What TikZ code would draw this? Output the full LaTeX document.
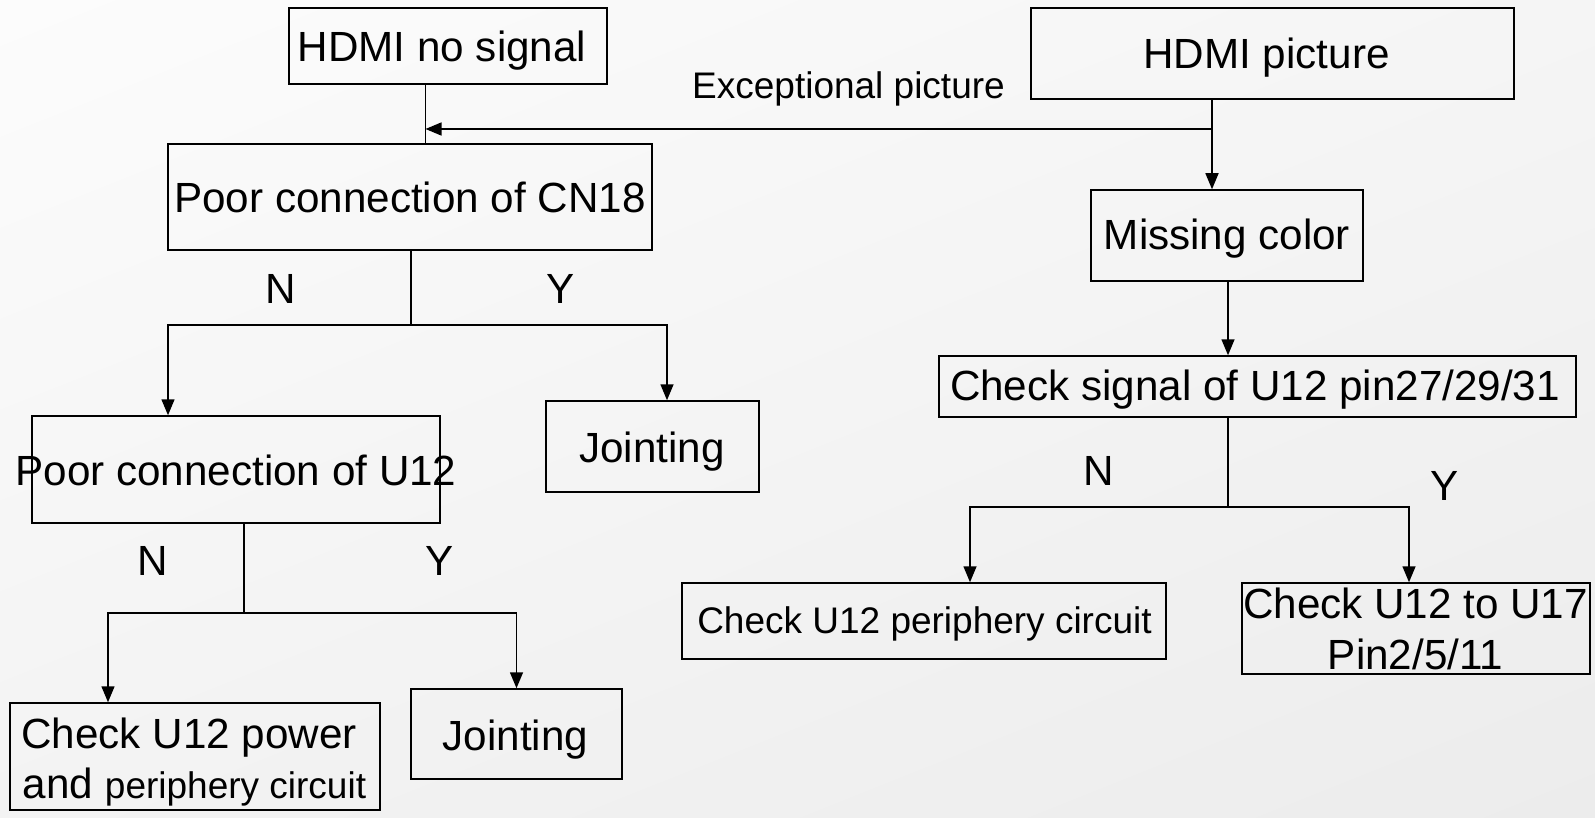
\documentclass[tikz,border=0pt]{standalone}
\usepackage{fontspec}
\setmainfont{Liberation Sans}
\usetikzlibrary{arrows.meta,shadings}
\newcommand\txtL{\fontsize{42.2}{51}\selectfont}
\newcommand\txtS{\fontsize{37}{45}\selectfont}
\definecolor{bgTL}{RGB}{252,252,252}
\definecolor{bgTR}{RGB}{245,245,245}
\definecolor{bgBL}{RGB}{243,243,243}
\definecolor{bgBR}{RGB}{236,236,236}
\begin{document}
\begin{tikzpicture}[x=1pt,y=-1pt,
  box/.style={draw=black, line width=1.5pt, inner sep=0pt},
  lbl/.style={anchor=base, inner sep=0pt, font=\txtL},
  lbls/.style={anchor=base, inner sep=0pt, font=\txtS},
  wire/.style={draw=black, line width=1.5pt},
  arr/.style={wire, -{Triangle[length=16pt,width=13pt]}}]
% page and background
\shade[upper left=bgTL, upper right=bgTR, lower left=bgBL, lower right=bgBR]
  (0,0) rectangle (1595,818);
\useasboundingbox (0,0) rectangle (1595,818);

% boxes
\node[box, minimum width=318pt, minimum height=76pt]  (nosig)  at (448,46) {};
\node[box, minimum width=484pt, minimum height=106pt] (cn18)   at (410,197) {};
\node[box, minimum width=408pt, minimum height=107pt] (u12)    at (236,469.5) {};
\node[box, minimum width=213pt, minimum height=91pt]  (joint1) at (652.5,446.5) {};
\node[box, minimum width=370pt, minimum height=107pt] (power)  at (195,756.5) {};
\node[box, minimum width=211pt, minimum height=90pt]  (joint2) at (516.5,734) {};
\node[box, minimum width=483pt, minimum height=91pt]  (hpic)   at (1272.5,53.5) {};
\node[box, minimum width=272pt, minimum height=91pt]  (miss)   at (1227,235.5) {};
\node[box, minimum width=637pt, minimum height=61pt]  (sig)    at (1257.5,386.5) {};
\node[box, minimum width=484pt, minimum height=76pt]  (peri)   at (924,621) {};
\node[box, minimum width=348pt, minimum height=91pt]  (u17)    at (1416,628.5) {};

% box texts
\node[lbl] (tnosig)  at (442,62)    {HDMI no signal};
\node[lbl] (tcn18)   at (410,213)   {Poor connection of CN18};
\node[lbl] (tu12)    at (236,485)   {Poor connection of U12};
\node[lbl] (tjoint1) at (652,462)   {Jointing};
\node[lbl] (tpowerA) at (189,748)   {Check U12 power};
\node[lbl] (tpowerB) at (194.5,798) {and {\txtS periphery circuit}};
\node[lbl] (tjoint2) at (515.5,750) {Jointing};
\node[lbl] (thpic)   at (1266.5,69) {HDMI picture};
\node[lbl] (tmiss)   at (1227,250)  {Missing color};
\node[lbl] (tsig)    at (1255,400)  {Check signal of U12 pin27/29/31};
\node[lbls] (tperi)  at (924.5,633) {Check U12 periphery circuit};
\node[lbl] (tu17A)   at (1415.5,618) {Check U12 to U17};
\node[lbl] (tu17B)   at (1415.5,669) {Pin2/5/11};
\node[lbls] (texc)   at (848.5,98.5) {Exceptional picture};

% branch labels
\node[lbl] (n1) at (281,303)  {N};
\node[lbl] (y1) at (561,303)  {Y};
\node[lbl] (n2) at (153,575)  {N};
\node[lbl] (y2) at (440,575)  {Y};
\node[lbl] (n3) at (1099,485) {N};
\node[lbl] (y3) at (1445,500) {Y};

% junction points
\coordinate (jA) at (425.5,129);
\coordinate (jB) at (1212,129);
\coordinate (s1) at (411,325);
\coordinate (s1L) at (168,325);
\coordinate (s1R) at (667,325);
\coordinate (s2) at (244,613);
\coordinate (s2L) at (108,613);
\coordinate (s2R) at (516.5,613);
\coordinate (s3) at (1228,507);
\coordinate (s3L) at (970,507);
\coordinate (s3R) at (1409,507);

% connectors
\draw[wire] (nosig.south -| jA) -- (cn18.north -| jA);
\draw[wire] (hpic.south -| jB) -- (jB);
\draw[arr] (jB) -- (miss.north -| jB);
\draw[arr] (jB) -- (jA);

\draw[wire] (cn18.south -| s1) -- (s1);
\draw[arr] (s1) -- (s1L) -- (u12.north -| s1L);
\draw[arr] (s1) -- (s1R) -- (joint1.north -| s1R);

\draw[wire] (u12.south -| s2) -- (s2);
\draw[arr] (s2) -- (s2L) -- (power.north -| s2L);
\draw[arr] (s2) -- (s2R) -- (joint2.north -| s2R);

\draw[arr] (miss.south -| s3) -- (sig.north -| s3);
\draw[wire] (sig.south -| s3) -- (s3);
\draw[arr] (s3) -- (s3L) -- (peri.north -| s3L);
\draw[arr] (s3) -- (s3R) -- (u17.north -| s3R);
\end{tikzpicture}
\end{document}
